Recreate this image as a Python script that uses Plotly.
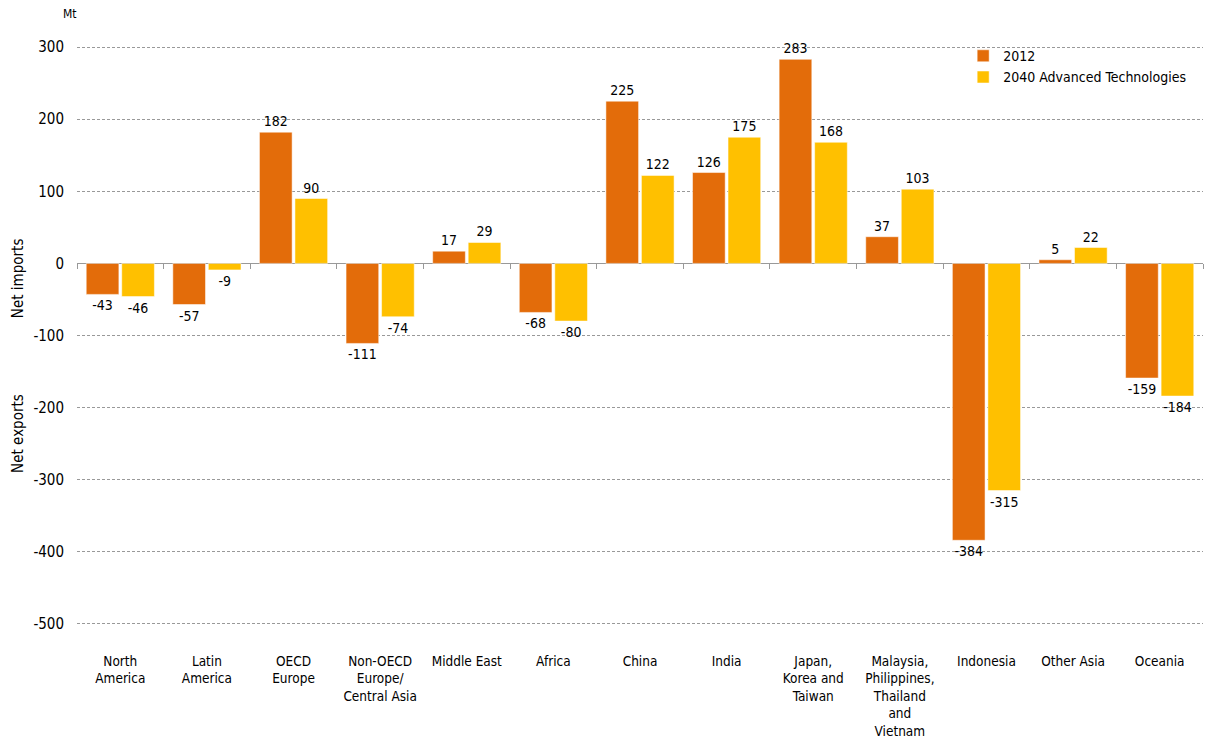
import plotly.graph_objects as go

# Coal net trade by region (Mt)
regions = ["North<br>America", "Latin<br>America", "OECD<br>Europe", "Non-OECD<br>Europe/<br>Central Asia",
           "Middle East", "Africa", "China", "India", "Japan,<br>Korea and<br>Taiwan",
           "Malaysia,<br>Philippines,<br>Thailand<br>and<br>Vietnam", "Indonesia", "Other Asia", "Oceania"]
values_2012 = [-43, -57, 182, -111, 17, -68, 225, 126, 283, 37, -384, 5, -159]
values_2040 = [-46, -9, 90, -74, 29, -80, 122, 175, 168, 103, -315, 22, -184]
y_ticks = [300, 200, 100, 0, -100, -200, -300, -400, -500]
y_tick_text = [str(v) for v in y_ticks]  # plain hyphen minus, as in the source

FONT = "DejaVu Sans Condensed, Liberation Sans, sans-serif"
ORANGE = "#E36C0A"
YELLOW = "#FFC000"

fig = go.Figure()

fig.add_trace(go.Bar(
    x=regions, y=values_2012, name="2012",
    marker=dict(color=ORANGE, line=dict(color="rgba(255,255,255,0.5)", width=1)),
    text=values_2012, textposition="outside", cliponaxis=False,
    textfont=dict(size=14, color="black", family=FONT),
))
fig.add_trace(go.Bar(
    x=regions, y=values_2040, name="2040 Advanced Technologies",
    marker=dict(color=YELLOW, line=dict(color="rgba(255,255,255,0.5)", width=1)),
    text=values_2040, textposition="outside", cliponaxis=False,
    textfont=dict(size=14, color="black", family=FONT),
))

# invisible trace to carry the zero-line category ticks
fig.add_trace(go.Scatter(x=regions, y=[None] * len(regions), xaxis="x2", mode="lines",
                         showlegend=False, hoverinfo="skip"))

x_range = [-0.5, len(regions) - 0.5]

fig.update_layout(
    width=1205, height=740,
    margin=dict(l=77, r=2, t=46, b=115, autoexpand=False),
    plot_bgcolor="white", paper_bgcolor="white",
    font=dict(family=FONT, size=14, color="black"),
    barmode="group", bargap=0.18, bargroupgap=0.08,
    xaxis=dict(
        type="category", categoryorder="array", categoryarray=regions,
        range=x_range,
        showline=False, ticks="", showgrid=False, automargin=False,
        tickfont=dict(size=13.5), ticklabelstandoff=26,
    ),
    xaxis2=dict(
        type="category", categoryorder="array", categoryarray=regions,
        range=x_range,
        overlaying="x", anchor="free", position=0.625,
        showticklabels=False, ticks="outside", tickson="boundaries",
        ticklen=5, tickcolor="#999999", showline=False, showgrid=False,
        automargin=False,
    ),
    yaxis=dict(
        range=[-501.5, 301.5], tickvals=y_ticks, ticktext=y_tick_text,
        showgrid=True, gridcolor="#999999", griddash="3px,2px", gridwidth=1,
        zeroline=True, zerolinecolor="#999999", zerolinewidth=1,
        tickfont=dict(size=15), ticklabelstandoff=12, automargin=False,
    ),
    legend=dict(
        x=0.787, y=1.01, xanchor="left", yanchor="top",
        font=dict(size=14), bgcolor="rgba(0,0,0,0)",
        tracegroupgap=0, itemwidth=30,
    ),
    annotations=[
        dict(text="Mt", xref="paper", yref="paper", x=-0.006, y=1.055,
             xanchor="center", yanchor="middle", showarrow=False, font=dict(size=12)),
        dict(text="Net imports", xref="paper", yref="y", x=-0.053, y=-20,
             textangle=-90, xanchor="center", yanchor="middle", showarrow=False,
             font=dict(size=15)),
        dict(text="Net exports", xref="paper", yref="y", x=-0.053, y=-236,
             textangle=-90, xanchor="center", yanchor="middle", showarrow=False,
             font=dict(size=15)),
    ],
)

fig.write_html("out.html", config={"displayModeBar": False},
               post_script="document.body.style.margin='0';")
